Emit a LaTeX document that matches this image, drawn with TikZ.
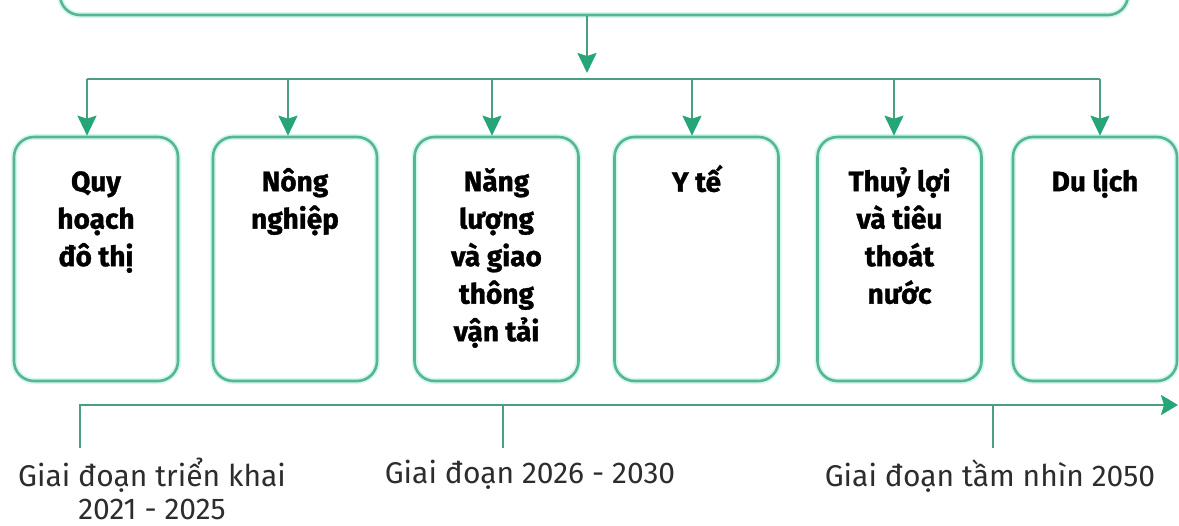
\documentclass[tikz,border=0pt]{standalone}
\usepackage{fontspec}
\setmainfont{Fira Sans}[BoldFeatures={FakeBold=1.2}]
\usetikzlibrary{arrows.meta}
\definecolor{lg}{RGB}{72,160,128}
\definecolor{ag}{RGB}{38,166,118}
\definecolor{bg}{RGB}{88,180,150}
\definecolor{glow}{RGB}{212,247,238}
\definecolor{lbl}{RGB}{45,45,45}
\tikzset{
  catbox/.style={draw=bg, line width=2.6pt, rounded corners=20pt,
    minimum width=164pt, minimum height=244pt, inner sep=0pt,
    preaction={draw=glow, line width=6pt}},
  cattext/.style={anchor=north, align=center, inner sep=0pt,
    font=\bfseries\fontsize{28}{37.5}\selectfont, text=black},
  conn/.style={draw=lg, line width=2.2pt},
  dropar/.style={conn, -{Stealth[length=20pt, width=19pt, inset=3pt, color=ag]}},
  tlar/.style={conn, line width=2.6pt, -{Stealth[length=17pt, width=20pt, inset=3pt, color=ag]}},
  phase/.style={anchor=north, align=center, inner sep=0pt,
    font=\fontsize{30}{33}\selectfont, text=lbl},
}
\begin{document}
\begin{tikzpicture}[x=1pt, y=-1pt]
\useasboundingbox (0,0) rectangle (1179,526);
\clip (0,0) rectangle (1179,526);
% top box (cut off)
\node[catbox, minimum width=1068pt, minimum height=100pt] (top) at (594,-35) {};
% category boxes
\node[catbox] (b1) at (96,259) {};
\node[catbox] (b2) at (295,259) {};
\node[catbox] (b3) at (496.5,259) {};
\node[catbox] (b4) at (696.5,259) {};
\node[catbox] (b5) at (899.5,259) {};
\node[catbox] (b6) at (1095,259) {};
% texts
\node[cattext] (t1) at ([yshift=-29pt]b1.north) {\strut Quy\\hoạch\\đô thị};
\node[cattext] (t2) at ([yshift=-29pt]b2.north) {\strut Nông\\nghiệp};
\node[cattext] (t3) at ([yshift=-29pt]b3.north) {\strut Năng\\lượng\\và giao\\thông\\vận tải};
\node[cattext] (t4) at ([yshift=-29pt]b4.north) {\strut Y tế};
\node[cattext] (t5) at ([yshift=-29pt]b5.north) {\strut Thuỷ lợi\\và tiêu\\thoát\\nước};
\node[cattext] (t6) at ([yshift=-29pt]b6.north) {\strut Du lịch};
% connectors
\coordinate (m) at (587,73);
\coordinate (d1) at (87,79);
\coordinate (d2) at (288,79);
\coordinate (d3) at (492,79);
\coordinate (d4) at (692,79);
\coordinate (d5) at (894,79);
\coordinate (d6) at (1100,79);
\draw[dropar] (top.south -| m) -- (m);
\draw[conn] (d1) -- (d6);
\foreach \i in {1,...,6} {
  \draw[dropar] (d\i) -- (b\i.north -| d\i);
}
% timeline
\coordinate (k1) at (80,448);
\coordinate (c1) at (80,405);
\coordinate (tend) at (1178,405);
\coordinate (k2) at (503,448);
\coordinate (k3) at (993,448);
\draw[tlar] (k1) -- (c1) -- (tend);
\draw[conn] (k2) -- (k2 |- c1);
\draw[conn] (k3) -- (k3 |- c1);
\node[phase] (p1) at (152,458) {\strut Giai đoạn triển khai\\2021 - 2025};
\node[phase] (p2) at (530,460) {\strut Giai đoạn 2026 - 2030};
\node[phase] (p3) at (990,460) {\strut Giai đoạn tầm nhìn 2050};
\end{tikzpicture}
\end{document}
